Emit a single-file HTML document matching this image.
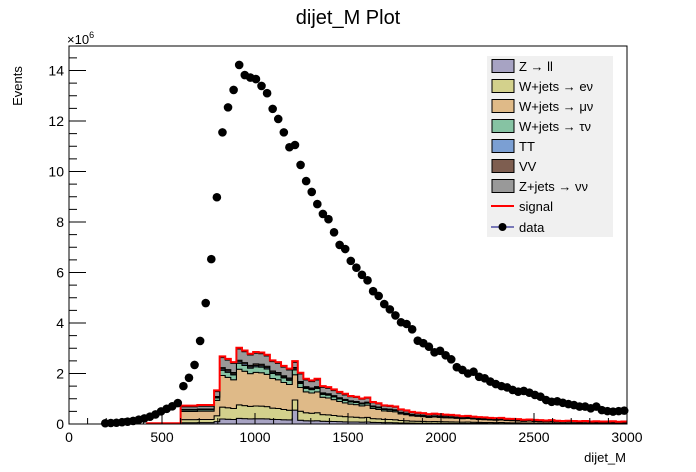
<!DOCTYPE html>
<html><head><meta charset="utf-8"><style>
body{margin:0;background:#fff;}
svg{display:block;font-family:"Liberation Sans",sans-serif;}
</style></head><body>
<svg id="chart" width="696" height="472" viewBox="0 0 696 472" xmlns="http://www.w3.org/2000/svg">
<rect width="696" height="472" fill="#fff"/>
<text x="348" y="24" font-size="20" text-anchor="middle">dijet_M Plot</text>
<text transform="translate(22,86) rotate(-90)" font-size="13" text-anchor="middle">Events</text>
<text x="67" y="44" font-size="13">×10<tspan font-size="9" dy="-6">6</tspan></text>
<text x="626" y="462" font-size="13" text-anchor="end">dijet_M</text>
<g id="stack"></g>
<g id="signal"></g>
<g id="data"></g>
<g id="axes"></g>
<g id="legend"></g>
</svg>
<script>
const binWidth = 30;
const mcStart = 600;
const zll = [.051,.051,.051,.053,.053,.053,.096,.197,.190,.180,.223,.215,.205,.210,.209,.202,.185,.180,.169,.161,.55,.149,.131,.126,.131,.109,.106,.099,.092,.086,.081,.079,.074,.077,.063,.059,.053,.052,.050,.041,.038,.034,.032,.030,.027,.029,.027,.026,.025,.023,.022,.023,.020,.019,.018,.017,.016,.017,.014,.014,.013,.011,.012,.011,.010,.009,.010,.008,.008,.008,.008,.007,.008,.006,.007,.006,.006,.007,.005,.006];
const wen = [.122,.122,.122,.126,.126,.126,.230,.473,.455,.432,.535,.515,.491,.504,.500,.484,.445,.432,.405,.385,.40,.356,.313,.302,.313,.261,.254,.238,.220,.207,.194,.189,.176,.184,.151,.142,.128,.124,.119,.099,.092,.081,.076,.072,.065,.068,.065,.061,.059,.056,.052,.054,.049,.045,.043,.040,.038,.040,.034,.032,.031,.027,.029,.025,.023,.022,.023,.020,.018,.020,.018,.016,.018,.014,.016,.014,.014,.016,.013,.014];
const wmn = [.323,.323,.323,.333,.333,.333,.608,1.249,1.202,1.140,1.411,1.359,1.297,1.330,1.321,1.278,1.173,1.140,1.069,1.017,1.0,.941,.827,.798,.827,.689,.670,.627,.580,.546,.513,.499,.466,.485,.399,.375,.337,.328,.314,.261,.242,.214,.200,.190,.171,.181,.171,.162,.157,.147,.138,.143,.128,.119,.114,.105,.100,.105,.090,.086,.081,.071,.076,.067,.062,.057,.062,.052,.048,.052,.048,.043,.048,.038,.043,.038,.038,.043,.033,.038];
const wtn = [.054,.054,.054,.056,.056,.056,.102,.210,.202,.192,.238,.229,.218,.224,.222,.215,.198,.192,.180,.171,.19,.158,.139,.134,.139,.116,.113,.106,.098,.092,.086,.084,.078,.082,.067,.063,.057,.055,.053,.044,.041,.036,.034,.032,.029,.030,.029,.027,.026,.025,.023,.024,.022,.020,.019,.018,.017,.018,.015,.014,.014,.012,.013,.011,.010,.010,.010,.009,.008,.009,.008,.007,.008,.006,.007,.006,.006,.007,.006,.006];
const tt = [.014,.014,.014,.014,.014,.014,.026,.053,.051,.048,.059,.057,.055,.056,.056,.054,.049,.048,.045,.043,.05,.040,.035,.034,.035,.029,.028,.026,.024,.023,.022,.021,.020,.020,.017,.016,.014,.014,.013,.011,.010,.009,.008,.008,.007,.008,.007,.007,.007,.006,.006,.006,.005,.005,.005,.004,.004,.004,.004,.004,.003,.003,.003,.003,.003,.002,.003,.002,.002,.002,.002,.002,.002,.002,.002,.002,.002,.002,.001,.002];
const vv = [.014,.014,.014,.014,.014,.014,.026,.053,.051,.048,.059,.057,.055,.056,.056,.054,.049,.048,.045,.043,.05,.040,.035,.034,.035,.029,.028,.026,.024,.023,.022,.021,.020,.020,.017,.016,.014,.014,.013,.011,.010,.009,.008,.008,.007,.008,.007,.007,.007,.006,.006,.006,.005,.005,.005,.004,.004,.004,.004,.004,.003,.003,.003,.003,.003,.002,.003,.002,.002,.002,.002,.002,.002,.002,.002,.002,.002,.002,.001,.002];
const znn = [.102,.102,.102,.105,.105,.105,.192,.395,.380,.360,.446,.429,.410,.420,.417,.404,.371,.360,.338,.321,.20,.297,.261,.252,.261,.218,.212,.198,.183,.173,.162,.158,.147,.153,.126,.119,.107,.104,.099,.083,.077,.068,.063,.060,.054,.057,.054,.051,.050,.047,.044,.045,.041,.038,.036,.033,.032,.033,.029,.027,.026,.023,.024,.021,.020,.018,.020,.017,.015,.017,.015,.014,.015,.012,.014,.012,.012,.014,.011,.012];
const signalStart = 420;
const signal = [.03,.03,.03,.03,.03,.03,.05,.05,.05,.05,.05,.05,.05,.05,.05,.05,.05,.05,.05,.05,.05,.05,.05,.05,.05,.05,.05,.05,.05,.05,.05,.05,.05,.05,.05,.05,.03,.03,.03,.03,.03,.03,.03,.03,.03,.03,.03,.03,.03,.03,.03,.03,.03,.03,.03,.03,.02,.02,.02,.02,.02,.02,.02,.02,.02,.02,.02,.02,.02,.02,.02,.02,.02,.02,.02,.02,.02,.02,.02,.02,.02,.02,.02,.02,.02,.02];
const dataStart = 195;
const dataVals = [.03,.04,.05,.07,.09,.12,.17,.22,.29,.38,.5,.6,.7,.83,1.5,1.83,2.34,3.29,4.79,6.53,8.98,11.55,12.54,13.23,14.22,13.82,13.72,13.66,13.39,13.1,12.48,12.08,11.55,10.96,11.05,10.26,9.62,9.19,8.71,8.32,8.11,7.59,7.09,6.93,6.46,6.19,5.91,5.69,5.26,5.07,4.75,4.54,4.3,4.03,3.96,3.75,3.3,3.2,3.06,2.84,2.9,2.72,2.56,2.25,2.14,2.0,2.07,1.87,1.81,1.68,1.58,1.5,1.45,1.35,1.28,1.31,1.24,1.15,1.08,.95,.88,.9,.84,.79,.75,.69,.69,.62,.69,.55,.51,.49,.51,.53];
const xTicks = [0,500,1000,1500,2000,2500,3000];
const yTicks = [0,2,4,6,8,10,12,14];
const seriesNames = ["Z \u2192 ll","W+jets \u2192 e\u03bd","W+jets \u2192 \u03bc\u03bd","W+jets \u2192 \u03c4\u03bd","TT","VV","Z+jets \u2192 \u03bd\u03bd"];
const seriesColors = ["#a7a3c3","#d3d18c","#dfba88","#86c3a3","#7b9fd3","#7e5e50","#999999"];

const X0=69, X1=627, Y0=424, YT=46;
const xs = v => X0 + v*(X1-X0)/3000;
const ys = v => Y0 - v*(Y0-70.5)/14;
const NS="http://www.w3.org/2000/svg";
function mk(tag, parent){const e=document.createElementNS(NS,tag);parent.appendChild(e);return e;}

const stackG=document.getElementById('stack');
const series=[zll,wen,wmn,wtn,tt,vv,znn];
const cum=new Array(zll.length).fill(0);
const stackNames=['z-ll','w-enu','w-munu','w-taunu','ttbar','diboson','z-nunu'];
series.forEach((s,si)=>{
  const lower=cum.slice();
  for(let i=0;i<s.length;i++) cum[i]+=s[i];
  let d='M'+xs(mcStart)+','+ys(0);
  for(let i=0;i<s.length;i++){const a=mcStart+i*binWidth;d+=' L'+xs(a)+','+ys(cum[i])+' L'+xs(a+binWidth)+','+ys(cum[i]);}
  d+=' L'+xs(mcStart+s.length*binWidth)+','+ys(0);
  for(let i=s.length-1;i>=0;i--){const a=mcStart+i*binWidth;d+=' L'+xs(a+binWidth)+','+ys(lower[i])+' L'+xs(a)+','+ys(lower[i]);}
  d+='Z';
  const p=mk('path',stackG);
  
  
  p.setAttribute('d',d);p.setAttribute('fill',seriesColors[si]);p.setAttribute('stroke','#000');p.setAttribute('stroke-width','1');
});
// signal line on top of stack
const sigG=document.getElementById('signal');
let sd='';
for(let i=0;i<signal.length;i++){
  const a=signalStart+i*binWidth;
  const mi=(a-mcStart)/binWidth;
  const base=(mi>=0&&mi<cum.length)?cum[mi]:0;
  const y=ys(base+signal[i]);
  sd+=(i===0?'M'+xs(a)+','+ys(0)+' L':' L')+xs(a)+','+y+' L'+xs(a+binWidth)+','+y;
}
const sp=mk('path',sigG);


sp.setAttribute('d',sd);sp.setAttribute('fill','none');sp.setAttribute('stroke','#ff0000');sp.setAttribute('stroke-width','2');

const dG=document.getElementById('data');
dataVals.forEach((v,i)=>{
  const c=mk('circle',dG);
  
  
  c.setAttribute('cx',xs(dataStart+i*binWidth));c.setAttribute('cy',ys(v));c.setAttribute('r','4.3');c.setAttribute('fill','#000');
});

const ax=document.getElementById('axes');
const fr=mk('rect',ax);


fr.setAttribute('x',X0);fr.setAttribute('y',YT);fr.setAttribute('width',X1-X0);fr.setAttribute('height',Y0-YT);fr.setAttribute('fill','none');fr.setAttribute('stroke','#000');
function line(x1,y1,x2,y2){const l=mk('line',ax);l.setAttribute('x1',x1);l.setAttribute('y1',y1);l.setAttribute('x2',x2);l.setAttribute('y2',y2);l.setAttribute('stroke','#000');return l;}
for(let v=0;v<=3000;v+=100){const big=v%500===0;const l=line(xs(v),Y0,xs(v),Y0-(big?11:6));
  
  }
xTicks.forEach(v=>{const t=mk('text',ax);
  
  
  t.setAttribute('x',xs(v));t.setAttribute('y',442);t.setAttribute('font-size','14');t.setAttribute('text-anchor','middle');t.textContent=v;});
for(let v=0;v<=14.9;v+=0.5){const big=Math.abs(v%2)<1e-6;const l=line(X0,ys(v),X0+(big?17:8),ys(v));
  
  }
yTicks.forEach(v=>{const t=mk('text',ax);
  
  
  t.setAttribute('x',X0-5);t.setAttribute('y',ys(v)+5);t.setAttribute('font-size','14');t.setAttribute('text-anchor','end');t.textContent=v;});

const lg=document.getElementById('legend');
const bg=mk('rect',lg);


bg.setAttribute('x',487);bg.setAttribute('y',56);bg.setAttribute('width',126);bg.setAttribute('height',181);bg.setAttribute('fill','#f0f0f0');
seriesNames.forEach((n,i)=>{
  const y=66+i*20;
  const r=mk('rect',lg);
  
  
  r.setAttribute('x',492);r.setAttribute('y',y-6.5);r.setAttribute('width',22);r.setAttribute('height',13);r.setAttribute('fill',seriesColors[i]);r.setAttribute('stroke','#000');
  const t=mk('text',lg);
  
  
  t.setAttribute('x',519);t.setAttribute('y',y+5);t.setAttribute('font-size','13');t.textContent=n;
});
{const y=206;const l=mk('line',lg);
  
  
  l.setAttribute('x1',491);l.setAttribute('x2',514);l.setAttribute('y1',y);l.setAttribute('y2',y);l.setAttribute('stroke','#ff0000');l.setAttribute('stroke-width','2');
  const t=mk('text',lg);
  
  
  t.setAttribute('x',519);t.setAttribute('y',y+5);t.setAttribute('font-size','13');t.textContent='signal';}
{const y=227;const l=mk('line',lg);
  
  
  l.setAttribute('x1',491);l.setAttribute('x2',514);l.setAttribute('y1',y);l.setAttribute('y2',y);l.setAttribute('stroke','#000080');
  const c=mk('circle',lg);
  
  
  c.setAttribute('cx',502.5);c.setAttribute('cy',y);c.setAttribute('r','4');c.setAttribute('fill','#000');
  const t=mk('text',lg);
  
  
  t.setAttribute('x',519);t.setAttribute('y',y+5);t.setAttribute('font-size','13');t.textContent='data';}
</script>
</body></html>
